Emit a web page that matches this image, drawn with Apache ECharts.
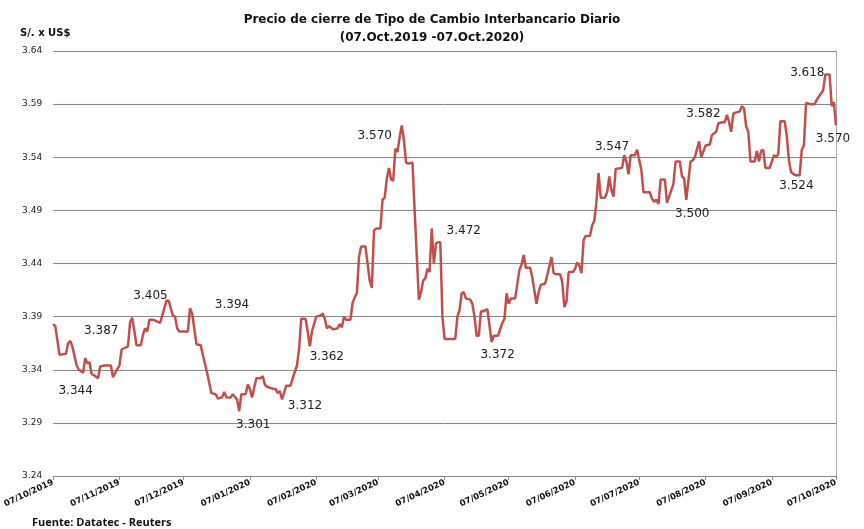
<!DOCTYPE html>
<html>
<head>
<meta charset="utf-8">
<script src="https://cdn.jsdelivr.net/npm/echarts@6/dist/echarts.min.js"></script>
<style>
  html, body { margin: 0; padding: 0; background: #fff; }
  #chart { width: 864px; height: 529px; }
</style>
</head>
<body>
<div id="chart"></div>
<script>
// days counted from 07/10/2019
var dayOffsets = [
  0, 1, 3, 6, 7, 8, 9, 11, 12, 13, 14, 15, 16, 17, 18, 19, 21, 22, 24, 27,
  28, 29, 31, 32, 33, 35, 36, 37, 39, 41, 42, 43, 44, 45, 47, 49, 50, 51, 53, 54,
  56, 57, 58, 59, 63, 64, 65, 67, 69, 70, 72, 74, 76, 77, 79, 80, 81, 83, 84, 86,
  87, 88, 90, 91, 92, 93, 95, 97, 98, 99, 100, 103, 104, 105, 106, 107, 109, 111, 112, 114,
  115, 116, 118, 119, 120, 121, 123, 125, 126, 127, 128, 129, 131, 133, 134, 135, 136, 137, 139, 140,
  141, 142, 143, 144, 146, 147, 148, 149, 150, 151, 153, 154, 155, 156, 157, 158, 159, 160, 161, 162,
  163, 164, 165, 166, 168, 169, 171, 172, 173, 174, 175, 176, 177, 178, 179, 180, 181, 182, 183, 188,
  189, 190, 191, 192, 193, 195, 196, 197, 198, 199, 200, 201, 203, 205, 206, 208, 210, 211, 212, 213,
  214, 216, 218, 219, 220, 221, 223, 224, 226, 227, 228, 230, 231, 233, 234, 235, 237, 238, 239, 240,
  241, 243, 244, 245, 246, 247, 248, 249, 251, 252, 253, 254, 255, 256, 258, 259, 260, 261, 262, 263,
  266, 267, 268, 269, 270, 272, 273, 275, 276, 279, 280, 281, 282, 283, 284, 286, 287, 290, 291, 293,
  294, 295, 296, 298, 299, 300, 302, 303, 305, 307, 308, 310, 311, 313, 314, 315, 316, 317, 318, 319,
  321, 322, 323, 324, 325, 326, 328, 329, 330, 331, 332, 333, 335, 337, 338, 339, 340, 342, 343, 344,
  345, 347, 349, 350, 351, 352, 354, 356, 357, 359, 360, 361, 363, 364, 365, 366
];
var rates = [
  3.383, 3.381, 3.354, 3.355, 3.365, 3.367, 3.362, 3.344, 3.340, 3.339, 3.337, 3.351, 3.346, 3.347, 3.336, 3.335, 3.332, 3.343, 3.344, 3.344,
  3.333, 3.337, 3.344, 3.359, 3.360, 3.362, 3.385, 3.389, 3.363, 3.363, 3.373, 3.379, 3.376, 3.387, 3.387, 3.385, 3.384, 3.391, 3.405, 3.405,
  3.391, 3.390, 3.379, 3.376, 3.376, 3.398, 3.393, 3.364, 3.363, 3.354, 3.337, 3.318, 3.317, 3.313, 3.314, 3.319, 3.314, 3.314, 3.317, 3.312,
  3.301, 3.317, 3.317, 3.326, 3.322, 3.314, 3.332, 3.332, 3.334, 3.326, 3.324, 3.322, 3.322, 3.318, 3.320, 3.312, 3.325, 3.325, 3.332, 3.344,
  3.360, 3.388, 3.388, 3.376, 3.362, 3.376, 3.390, 3.391, 3.393, 3.388, 3.379, 3.381, 3.378, 3.379, 3.383, 3.380, 3.390, 3.387, 3.387, 3.403,
  3.408, 3.412, 3.446, 3.456, 3.456, 3.440, 3.424, 3.417, 3.471, 3.473, 3.473, 3.500, 3.502, 3.520, 3.530, 3.519, 3.518, 3.548, 3.545, 3.559,
  3.570, 3.556, 3.535, 3.534, 3.535, 3.490, 3.406, 3.413, 3.424, 3.426, 3.435, 3.432, 3.473, 3.440, 3.459, 3.460, 3.460, 3.390, 3.369, 3.369,
  3.390, 3.396, 3.412, 3.413, 3.407, 3.406, 3.402, 3.390, 3.372, 3.372, 3.395, 3.395, 3.397, 3.366, 3.372, 3.372, 3.384, 3.388, 3.412, 3.402,
  3.407, 3.407, 3.434, 3.439, 3.448, 3.436, 3.436, 3.427, 3.402, 3.413, 3.420, 3.421, 3.429, 3.446, 3.431, 3.430, 3.430, 3.423, 3.399, 3.404,
  3.432, 3.432, 3.435, 3.441, 3.438, 3.431, 3.462, 3.466, 3.466, 3.476, 3.480, 3.498, 3.525, 3.502, 3.502, 3.507, 3.522, 3.509, 3.503, 3.529,
  3.530, 3.542, 3.536, 3.524, 3.542, 3.542, 3.547, 3.528, 3.507, 3.507, 3.501, 3.498, 3.500, 3.496, 3.519, 3.519, 3.497, 3.515, 3.536, 3.536,
  3.522, 3.520, 3.500, 3.536, 3.537, 3.540, 3.555, 3.540, 3.551, 3.552, 3.561, 3.564, 3.572, 3.573, 3.573, 3.580, 3.573, 3.564, 3.581, 3.582,
  3.583, 3.588, 3.586, 3.569, 3.564, 3.536, 3.536, 3.546, 3.536, 3.546, 3.547, 3.530, 3.530, 3.542, 3.540, 3.543, 3.574, 3.574, 3.560, 3.537,
  3.526, 3.523, 3.523, 3.547, 3.551, 3.591, 3.590, 3.590, 3.594, 3.600, 3.603, 3.618, 3.618, 3.588, 3.592, 3.570
];

var tickDays = [0, 31, 61, 92, 123, 152, 183, 213, 244, 274, 305, 336, 366];
var tickLabels = ['07/10/2019', '07/11/2019', '07/12/2019', '07/01/2020', '07/02/2020', '07/03/2020',
  '07/04/2020', '07/05/2020', '07/06/2020', '07/07/2020', '07/08/2020', '07/09/2020', '07/10/2020'];

// annotated points
var noteDays = [11, 37, 53, 64, 87, 107, 120, 163, 177, 205, 273, 296, 319, 361, 347, 366];
var noteValues = [3.344, 3.389, 3.405, 3.398, 3.301, 3.312, 3.362, 3.570, 3.473, 3.366, 3.547, 3.500, 3.582, 3.618, 3.523, 3.570];
var noteTexts = ['3.344', '3.387', '3.405', '3.394', '3.301', '3.312', '3.362', '3.570', '3.472', '3.372',
  '3.547', '3.500', '3.582', '3.618', '3.524', '3.570'];
// label placement relative to the point (px)
var noteOffsets = [[-1, 25], [-31, 13], [-16, -5], [42, -3], [14, 14], [23, 6], [17, 10], [-27, 10],
  [32, 2], [6, 13], [-25, -3], [6, 14], [-32, 1], [-18, -2], [1, 11], [-3, 13]];

var lineData = dayOffsets.map(function (d, i) { return [d, rates[i]]; });
var notes = noteDays.map(function (d, i) {
  return {
    coord: [d, noteValues[i]],
    value: noteTexts[i],
    label: { offset: noteOffsets[i] }
  };
});

var chart = echarts.init(document.getElementById('chart'));
chart.setOption({
  animation: false,
  backgroundColor: '#fff',
  title: [{
    text: 'Precio de cierre de Tipo de Cambio Interbancario Diario\n(07.Oct.2019 -07.Oct.2020)',
    left: 'center',
    top: 6,
    textStyle: { fontFamily: 'DejaVu Sans', fontSize: 12, fontWeight: 'bold', color: '#111', lineHeight: 18 }
  }, {
    text: 'S/. x US$',
    left: 15,
    top: 23,
    textStyle: { fontFamily: 'DejaVu Sans', fontSize: 10, fontWeight: 'bold', color: '#111' }
  }, {
    text: 'Fuente: Datatec - Reuters',
    left: 27,
    top: 512,
    textStyle: { fontFamily: 'Open Sans', fontSize: 11, fontWeight: 'bold', color: '#111' }
  }],
  grid: { left: 49, right: 28, top: 51, bottom: 53 },
  xAxis: {
    type: 'value',
    min: 0,
    max: 366,
    axisLine: { lineStyle: { color: '#888', width: 1 } },
    axisTick: { customValues: tickDays, length: 4, lineStyle: { color: '#888' } },
    axisLabel: {
      customValues: tickDays,
      rotate: 25,
      fontFamily: 'DejaVu Sans',
      fontSize: 8.5,
      fontWeight: 'bold',
      color: '#111',
      margin: 6,
      formatter: function (v) { return tickLabels[tickDays.indexOf(v)]; }
    },
    splitLine: { show: false }
  },
  yAxis: [{
    type: 'value',
    min: 3.24,
    max: 3.64,
    interval: 0.05,
    axisLine: { show: false },
    axisTick: { show: false },
    axisLabel: {
      fontFamily: 'DejaVu Sans',
      fontSize: 9,
      color: '#222',
      margin: 11,
      formatter: function (v) { return v.toFixed(2); }
    },
    splitLine: {
      lineStyle: { color: '#888', width: 1, shadowColor: 'rgba(205,210,228,0.45)', shadowBlur: 5 }
    }
  }, {
    type: 'value',
    position: 'right',
    min: 3.24,
    max: 3.64,
    axisLine: { show: true, lineStyle: { color: '#999', type: 'dotted', width: 1 } },
    axisTick: { show: false },
    axisLabel: { show: false },
    splitLine: { show: false }
  }],
  series: [{
    type: 'line',
    data: lineData,
    symbol: 'none',
    lineStyle: { color: '#C0504D', width: 2.5 },
    itemStyle: { color: '#C0504D' },
    markPoint: {
      symbol: 'circle',
      symbolSize: 1,
      itemStyle: { color: 'rgba(0,0,0,0)' },
      label: {
        show: true,
        position: 'inside',
        fontFamily: 'DejaVu Sans',
        fontSize: 12,
        color: '#222',
        formatter: function (p) { return p.value; }
      },
      data: notes
    }
  }]
});
</script>
</body>
</html>
